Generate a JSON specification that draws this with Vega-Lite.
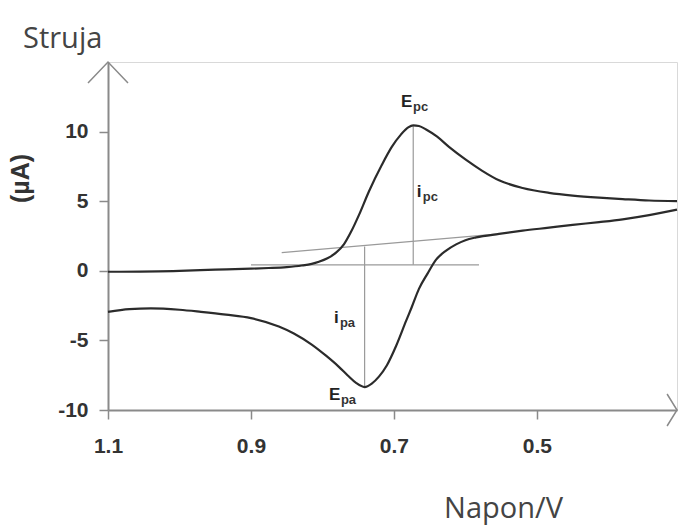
{
  "$schema": "https://vega.github.io/schema/vega-lite/v6.json",
  "width": 569,
  "height": 348,
  "autosize": {"type": "none"},
  "padding": {"left": 108, "top": 62, "right": 1, "bottom": 116},
  "background": "white",
  "config": {
    "view": {"stroke": "#d9d9d9", "strokeWidth": 1},
    "axis": {"grid": false}
  },
  "title": {
    "text": "Struja",
    "anchor": "start",
    "frame": "group",
    "dx": -85,
    "offset": -18,
    "baseline": "alphabetic",
    "font": "Open Sans",
    "fontSize": 29,
    "fontWeight": "normal",
    "color": "#444444"
  },
  "datasets": {
    "curve": [
      {"b": "upper", "k": 1, "v": 1.1, "i": -0.07},
      {"b": "upper", "k": 2, "v": 1.0, "i": 0.0},
      {"b": "upper", "k": 3, "v": 0.95, "i": 0.08},
      {"b": "upper", "k": 4, "v": 0.9, "i": 0.15},
      {"b": "upper", "k": 5, "v": 0.875, "i": 0.2},
      {"b": "upper", "k": 6, "v": 0.85, "i": 0.27},
      {"b": "upper", "k": 7, "v": 0.829, "i": 0.38},
      {"b": "upper", "k": 8, "v": 0.815, "i": 0.5},
      {"b": "upper", "k": 9, "v": 0.805, "i": 0.65},
      {"b": "upper", "k": 10, "v": 0.793, "i": 0.9},
      {"b": "upper", "k": 11, "v": 0.781, "i": 1.3},
      {"b": "upper", "k": 12, "v": 0.77, "i": 1.9},
      {"b": "upper", "k": 13, "v": 0.76, "i": 2.8},
      {"b": "upper", "k": 14, "v": 0.749, "i": 4.0},
      {"b": "upper", "k": 15, "v": 0.735, "i": 5.7},
      {"b": "upper", "k": 16, "v": 0.717, "i": 7.6},
      {"b": "upper", "k": 17, "v": 0.703, "i": 8.9},
      {"b": "upper", "k": 18, "v": 0.69, "i": 9.8},
      {"b": "upper", "k": 19, "v": 0.68, "i": 10.3},
      {"b": "upper", "k": 20, "v": 0.673, "i": 10.45},
      {"b": "upper", "k": 21, "v": 0.665, "i": 10.4},
      {"b": "upper", "k": 22, "v": 0.655, "i": 10.15},
      {"b": "upper", "k": 23, "v": 0.64, "i": 9.65},
      {"b": "upper", "k": 24, "v": 0.623, "i": 8.9},
      {"b": "upper", "k": 25, "v": 0.6, "i": 8.0},
      {"b": "upper", "k": 26, "v": 0.577, "i": 7.2},
      {"b": "upper", "k": 27, "v": 0.553, "i": 6.5},
      {"b": "upper", "k": 28, "v": 0.52, "i": 5.95},
      {"b": "upper", "k": 29, "v": 0.483, "i": 5.6},
      {"b": "upper", "k": 30, "v": 0.45, "i": 5.4},
      {"b": "upper", "k": 31, "v": 0.413, "i": 5.25},
      {"b": "upper", "k": 32, "v": 0.38, "i": 5.15},
      {"b": "upper", "k": 33, "v": 0.343, "i": 5.05},
      {"b": "upper", "k": 34, "v": 0.304, "i": 5.0},
      {"b": "lower", "k": 1, "v": 0.304, "i": 4.4},
      {"b": "lower", "k": 2, "v": 0.343, "i": 4.0},
      {"b": "lower", "k": 3, "v": 0.38, "i": 3.7},
      {"b": "lower", "k": 4, "v": 0.413, "i": 3.5},
      {"b": "lower", "k": 5, "v": 0.45, "i": 3.3},
      {"b": "lower", "k": 6, "v": 0.483, "i": 3.1},
      {"b": "lower", "k": 7, "v": 0.52, "i": 2.88},
      {"b": "lower", "k": 8, "v": 0.553, "i": 2.65},
      {"b": "lower", "k": 9, "v": 0.585, "i": 2.4},
      {"b": "lower", "k": 10, "v": 0.6, "i": 2.2},
      {"b": "lower", "k": 11, "v": 0.613, "i": 1.9},
      {"b": "lower", "k": 12, "v": 0.627, "i": 1.45},
      {"b": "lower", "k": 13, "v": 0.641, "i": 0.8},
      {"b": "lower", "k": 14, "v": 0.653, "i": -0.2},
      {"b": "lower", "k": 15, "v": 0.665, "i": -1.3},
      {"b": "lower", "k": 16, "v": 0.675, "i": -2.6},
      {"b": "lower", "k": 17, "v": 0.683, "i": -3.6},
      {"b": "lower", "k": 18, "v": 0.697, "i": -5.4},
      {"b": "lower", "k": 19, "v": 0.71, "i": -6.8},
      {"b": "lower", "k": 20, "v": 0.721, "i": -7.6},
      {"b": "lower", "k": 21, "v": 0.731, "i": -8.1},
      {"b": "lower", "k": 22, "v": 0.741, "i": -8.35},
      {"b": "lower", "k": 23, "v": 0.753, "i": -8.05},
      {"b": "lower", "k": 24, "v": 0.765, "i": -7.5},
      {"b": "lower", "k": 25, "v": 0.777, "i": -6.9},
      {"b": "lower", "k": 26, "v": 0.795, "i": -6.1},
      {"b": "lower", "k": 27, "v": 0.815, "i": -5.3},
      {"b": "lower", "k": 28, "v": 0.84, "i": -4.5},
      {"b": "lower", "k": 29, "v": 0.861, "i": -4.0},
      {"b": "lower", "k": 30, "v": 0.9, "i": -3.4},
      {"b": "lower", "k": 31, "v": 0.935, "i": -3.15},
      {"b": "lower", "k": 32, "v": 0.97, "i": -2.95},
      {"b": "lower", "k": 33, "v": 1.0, "i": -2.8},
      {"b": "lower", "k": 34, "v": 1.04, "i": -2.7},
      {"b": "lower", "k": 35, "v": 1.07, "i": -2.75},
      {"b": "lower", "k": 36, "v": 1.1, "i": -2.95}
    ],
    "guides": [
      {"v1": 0.9, "i1": 0.43, "v2": 0.581, "i2": 0.43},
      {"v1": 0.857, "i1": 1.3, "v2": 0.553, "i2": 2.65},
      {"v1": 0.673, "i1": 0.43, "v2": 0.673, "i2": 10.45},
      {"v1": 0.741, "i1": 1.75, "v2": 0.741, "i2": -8.35}
    ],
    "labels": [
      {"main": "E", "sub": "pc", "v": 0.69, "i": 11.78},
      {"main": "i", "sub": "pc", "v": 0.668, "i": 5.32},
      {"main": "i", "sub": "pa", "v": 0.784, "i": -3.74},
      {"main": "E", "sub": "pa", "v": 0.791, "i": -9.27}
    ],
    "arrows": [
      {"dir": "up", "v": 1.1, "i": 15},
      {"dir": "right", "v": 0.304, "i": -10}
    ]
  },
  "encoding": {
    "x": {
      "field": "v",
      "type": "quantitative",
      "scale": {"domain": [0.304, 1.1], "reverse": true, "nice": false, "zero": false},
      "axis": {
        "values": [1.1, 0.9, 0.7, 0.5],
        "format": ".1f",
        "labelFlush": false,
        "domainColor": "#8a8a8a",
        "domainWidth": 2,
        "tickColor": "#8a8a8a",
        "tickWidth": 1.5,
        "tickSize": 9,
        "labelFont": "Liberation Sans",
        "labelFontSize": 21,
        "labelFontWeight": "bold",
        "labelColor": "#333333",
        "labelPadding": 16,
        "title": "Napon/V",
        "titleFont": "Open Sans",
        "titleFontSize": 29,
        "titleFontWeight": "normal",
        "titleColor": "#444444",
        "titleX": 395,
        "titleY": 107,
        "titleAlign": "center",
        "titleBaseline": "alphabetic"
      }
    },
    "y": {
      "field": "i",
      "type": "quantitative",
      "scale": {"domain": [-10, 15], "nice": false, "zero": false},
      "axis": {
        "values": [-10, -5, 0, 5, 10],
        "labelExpr": "'' + datum.value",
        "labelFlush": false,
        "domainColor": "#8a8a8a",
        "domainWidth": 2,
        "tickColor": "#8a8a8a",
        "tickWidth": 1.5,
        "tickSize": 9,
        "labelFont": "Liberation Sans",
        "labelFontSize": 21,
        "labelFontWeight": "bold",
        "labelColor": "#333333",
        "labelPadding": 11,
        "title": "(µA)",
        "titleFont": "Liberation Sans",
        "titleFontSize": 25,
        "titleFontWeight": "bold",
        "titleColor": "#333333",
        "titleAngle": -90,
        "titleX": -88,
        "titleY": 116,
        "titleAlign": "center",
        "titleBaseline": "middle"
      }
    }
  },
  "layer": [
    {
      "data": {"name": "guides"},
      "mark": {"type": "rule", "color": "#9a9a9a", "strokeWidth": 1.2},
      "encoding": {
        "x": {"field": "v1", "type": "quantitative"},
        "y": {"field": "i1", "type": "quantitative"},
        "x2": {"field": "v2"},
        "y2": {"field": "i2"}
      }
    },
    {
      "data": {"name": "curve"},
      "mark": {"type": "line", "color": "#2b2b2b", "strokeWidth": 2.2, "interpolate": "monotone"},
      "encoding": {
        "detail": {"field": "b"},
        "order": {"field": "k", "type": "quantitative"}
      }
    },
    {
      "data": {"name": "labels"},
      "transform": [{"filter": "datum.main === 'E'"}],
      "mark": {"type": "text", "align": "left", "baseline": "alphabetic", "font": "Liberation Sans", "fontSize": 17, "fontWeight": "bold", "color": "#222222"},
      "encoding": {"text": {"field": "main"}}
    },
    {
      "data": {"name": "labels"},
      "transform": [{"filter": "datum.main === 'E'"}],
      "mark": {"type": "text", "align": "left", "baseline": "alphabetic", "dx": 12, "dy": 4, "font": "Liberation Sans", "fontSize": 13, "fontWeight": "bold", "color": "#333333"},
      "encoding": {"text": {"field": "sub"}}
    },
    {
      "data": {"name": "labels"},
      "transform": [{"filter": "datum.main === 'i'"}],
      "mark": {"type": "text", "align": "left", "baseline": "alphabetic", "font": "Liberation Sans", "fontSize": 17, "fontWeight": "bold", "color": "#222222"},
      "encoding": {"text": {"field": "main"}}
    },
    {
      "data": {"name": "labels"},
      "transform": [{"filter": "datum.main === 'i'"}],
      "mark": {"type": "text", "align": "left", "baseline": "alphabetic", "dx": 6, "dy": 4, "font": "Liberation Sans", "fontSize": 13, "fontWeight": "bold", "color": "#333333"},
      "encoding": {"text": {"field": "sub"}}
    },
    {
      "data": {"name": "arrows"},
      "transform": [{"filter": "datum.dir === 'up'"}],
      "mark": {"type": "point", "shape": "M-1,1.05L0,0L1,1.05", "size": 1600, "filled": false, "stroke": "#8a8a8a", "strokeWidth": 1.5, "opacity": 1}
    },
    {
      "data": {"name": "arrows"},
      "transform": [{"filter": "datum.dir === 'right'"}],
      "mark": {"type": "point", "shape": "M-0.62,-1L0,0L-0.62,1", "size": 1024, "filled": false, "stroke": "#8a8a8a", "strokeWidth": 1.5, "opacity": 1}
    }
  ]
}
